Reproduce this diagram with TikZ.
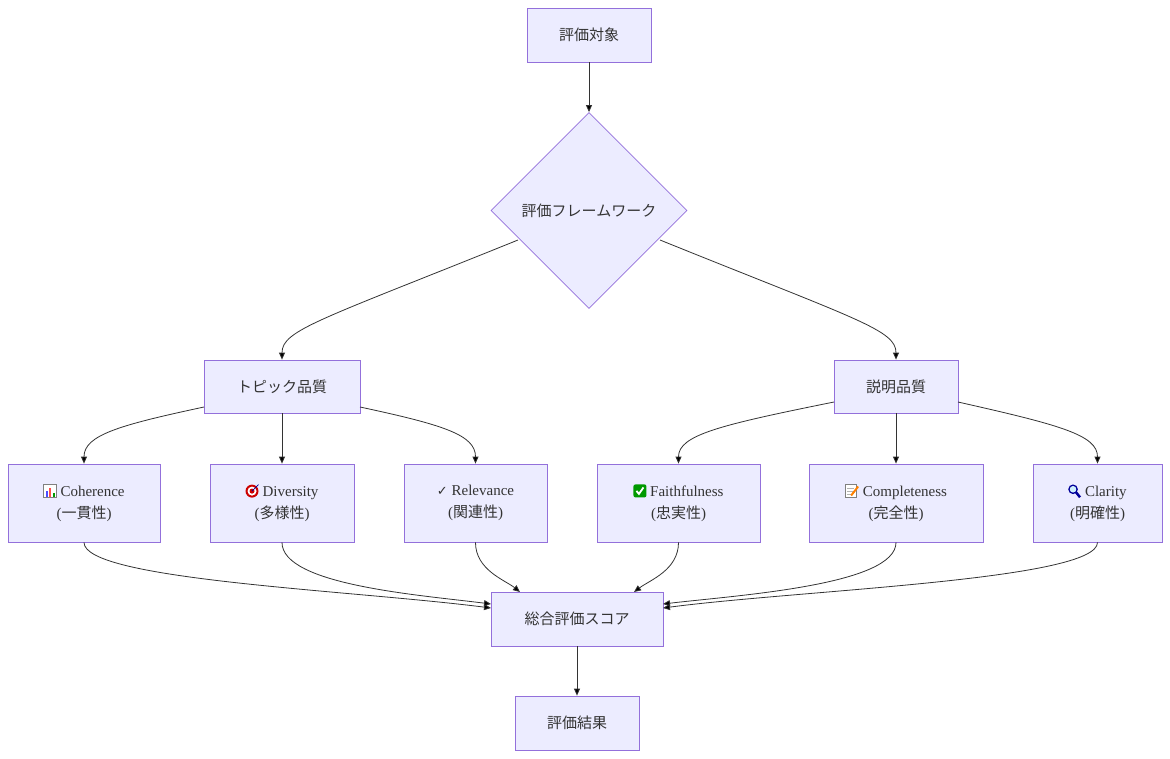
\documentclass[tikz,border=0pt]{standalone}
\usepackage{fontspec}
\setmainfont{Liberation Serif}
\newfontfamily\cjk{Noto Sans CJK JP}
\newfontfamily\djv{DejaVu Sans}
\usetikzlibrary{shapes.geometric,arrows.meta}
\definecolor{nodefill}{HTML}{ECECFF}
\definecolor{nodeborder}{HTML}{9370DB}
\definecolor{edgec}{HTML}{333333}
\newcommand{\icBar}{\tikz[baseline=0pt,x=1pt,y=1pt]{\draw[gray,fill=white](0,-1)rectangle(13,12);\fill[blue!70](2,0)rectangle(4,6);\fill[red!70](5.5,0)rectangle(7.5,9);\fill[green!60!black](9,0)rectangle(11,4);}}
\newcommand{\icTarget}{\tikz[baseline=0pt,x=1pt,y=1pt]{\fill[red!80!black](6.5,5.5)circle(6.5);\fill[white](6.5,5.5)circle(4.5);\fill[red!80!black](6.5,5.5)circle(2.5);\draw[blue!60!black,thick](6.5,5.5)--(13,12);}}
\newcommand{\icCheck}{\tikz[baseline=0pt,x=1pt,y=1pt]{\fill[green!60!black,rounded corners=2pt](0,-1)rectangle(13,12);\draw[white,line width=1.8pt](3,5.5)--(5.5,2.5)--(10,9);}}
\newcommand{\icMemo}{\tikz[baseline=0pt,x=1pt,y=1pt]{\draw[gray,fill=white](0,-1)rectangle(11,12);\draw[gray!60](2,8)--(9,8)(2,5)--(9,5)(2,2)--(7,2);\draw[orange,line width=2pt](6,1)--(13,10);}}
\newcommand{\icLens}{\tikz[baseline=0pt,x=1pt,y=1pt]{\draw[blue!60!black,line width=1.5pt](5,7)circle(4);\fill[cyan!20](5,7)circle(3.2);\draw[blue!60!black,line width=2.5pt](8,4)--(12,-1);}}
\begin{document}
\begin{tikzpicture}[x=1pt,y=-1pt,
  box/.style={draw=nodeborder,fill=nodefill,line width=0.8pt,align=center,inner sep=0pt,text=edgec,font=\fontsize{15}{22}\selectfont},
  edge/.style={draw=edgec,line width=0.8pt,-{Triangle[length=7pt,width=6pt]}}]
\useasboundingbox (0,0) rectangle (1170,758);
\node[box,minimum width=124pt,minimum height=54pt] (obj) at (589,35) {\cjk 評価対象};
\node[box,diamond,minimum width=196pt,minimum height=196pt] (fw) at (589,210.5) {\cjk 評価フレームワーク};
\node[box,minimum width=156pt,minimum height=53pt] (tq) at (282,386.5) {\cjk トピック品質};
\node[box,minimum width=124pt,minimum height=53pt] (eq) at (896,386.5) {\cjk 説明品質};
\node[box,minimum width=152pt,minimum height=78pt] (c1) at (84,503) {\icBar\ Coherence\\({\cjk 一貫性})};
\node[box,minimum width=144pt,minimum height=78pt] (c2) at (282,503) {\icTarget\ Diversity\\({\cjk 多様性})};
\node[box,minimum width=143pt,minimum height=78pt] (c3) at (475.5,503) {{\djv\fontsize{13}{15}\selectfont ✓} Relevance\\({\cjk 関連性})};
\node[box,minimum width=163pt,minimum height=78pt] (c4) at (678.5,503) {\icCheck\ Faithfulness\\({\cjk 忠実性})};
\node[box,minimum width=174pt,minimum height=78pt] (c5) at (896,503) {\icMemo\ Completeness\\({\cjk 完全性})};
\node[box,minimum width=129pt,minimum height=78pt] (c6) at (1097.5,503) {\icLens\ Clarity\\({\cjk 明確性})};
\node[box,minimum width=172pt,minimum height=54pt] (sc) at (577,619) {\cjk 総合評価スコア};
\node[box,minimum width=124pt,minimum height=54pt] (res) at (577,723) {\cjk 評価結果};
\draw[edge] (obj) -- (fw);
\draw[edge] (518,240) .. controls (320,320) and (282,330) .. (tq.north);
\draw[edge] (660,240) .. controls (858,320) and (896,330) .. (eq.north);
\draw[edge] (204,407) .. controls (120,425) and (84,435) .. (c1.north);
\draw[edge] (tq) -- (c2);
\draw[edge] (360,407) .. controls (444,425) and (475.5,435) .. (c3.north);
\draw[edge] (834,402) .. controls (720,425) and (678.5,435) .. (c4.north);
\draw[edge] (eq) -- (c5);
\draw[edge] (958,402) .. controls (1060,425) and (1097.5,435) .. (c6.north);
\draw[edge] (c1.south) .. controls (84,580) and (350,590) .. (491,608);
\draw[edge] (c2.south) .. controls (282,585) and (420,595) .. (491,604);
\draw[edge] (c3.south) .. controls (475.5,570) and (505,580) .. (520,592);
\draw[edge] (c4.south) .. controls (678.5,570) and (650,580) .. (634,592);
\draw[edge] (c5.south) .. controls (896,585) and (740,595) .. (663,604);
\draw[edge] (c6.south) .. controls (1097.5,580) and (800,590) .. (663,608);
\draw[edge] (sc) -- (res);
\end{tikzpicture}
\end{document}
